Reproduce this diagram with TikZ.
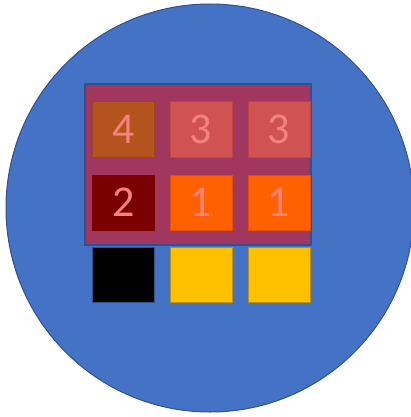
\documentclass[tikz,border=0pt]{standalone}
\usepackage{fontspec}
\setmainfont{Carlito}
\definecolor{disc}{HTML}{4472C4}
\definecolor{discline}{HTML}{2F528F}
\definecolor{boardfill}{HTML}{A1365E}
\definecolor{rust}{HTML}{B5531F}
\definecolor{rustline}{HTML}{A0421A}
\definecolor{coral}{HTML}{D05252}
\definecolor{coralline}{HTML}{C0443C}
\definecolor{maroon}{HTML}{7B0000}
\definecolor{blaze}{HTML}{FF6000}
\definecolor{blazeline}{HTML}{E05000}
\definecolor{gold}{HTML}{FFC000}
\definecolor{goldline}{HTML}{BF9000}
\definecolor{digit}{HTML}{F4827D}
\begin{document}
\begin{tikzpicture}[x=1pt, y=-1pt,
    cell/.style={rectangle, minimum width=62pt, minimum height=55pt, inner sep=0pt, line width=1pt,
      text=digit, font=\fontsize{44}{48}\selectfont}]
    \useasboundingbox (0,0) rectangle (411,417);
    % Disc and board
    \node[circle, fill=disc, draw=discline, line width=1pt, minimum size=408pt, inner sep=0pt] (disc) at (210,208) {};
    \node[rectangle, fill=boardfill, draw=discline, line width=1.5pt, minimum width=226pt, minimum height=161pt, inner sep=0pt] (board) at (198,164.5) {};

    % Cells
    \node[cell, fill=rust, draw=rustline] (a1) at (123.5,129.5) {4};
    \node[cell, fill=coral, draw=coralline] (a2) at (201,129.5) {3};
    \node[cell, fill=coral, draw=coralline] (a3) at (279,129.5) {3};
    \node[cell, fill=maroon, draw=maroon] (b1) at (123.5,202.5) {2};
    \node[cell, fill=blaze, draw=blazeline] (b2) at (201,202.5) {1};
    \node[cell, fill=blaze, draw=blazeline] (b3) at (279,202.5) {1};
    \node[cell, fill=black, draw=discline] (c1) at (123.5,275) {};
    \node[cell, fill=gold, draw=goldline] (c2) at (201,275) {};
    \node[cell, fill=gold, draw=goldline] (c3) at (279,275) {};
\end{tikzpicture}
\end{document}
